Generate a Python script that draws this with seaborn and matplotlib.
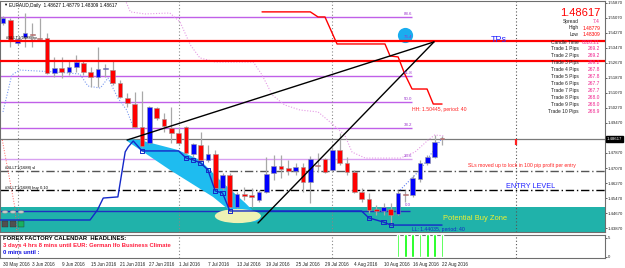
import matplotlib
matplotlib.use("Agg")
import matplotlib.pyplot as plt
from matplotlib.patches import Polygon, Ellipse
from matplotlib.transforms import blended_transform_factory
import numpy as np
import pandas as pd
import seaborn as sns

sns.set_style("white")
plt.rcParams['font.family'] = ['Liberation Sans', 'DejaVu Sans']

# ---------------- data ----------------
date_labels = ["30 May 2016", "3 Jun 2016", "9 Jun 2016", "15 Jun 2016", "21 Jun 2016",
               "27 Jun 2016", "1 Jul 2016", "7 Jul 2016", "13 Jul 2016", "19 Jul 2016",
               "25 Jul 2016", "29 Jul 2016", "4 Aug 2016", "10 Aug 2016", "16 Aug 2016",
               "22 Aug 2016"]
date_tick_bars = [0, 4, 8, 12, 16, 20, 24, 28, 32, 36, 40, 44, 48, 52, 56, 60]

opens = [1.5480, 1.5496, 1.5373, 1.5405, 1.5421, 1.5400, 1.5400, 1.5214, 1.5240, 1.5219,
         1.5245, 1.5267, 1.5219, 1.5192, 1.5235, 1.5229, 1.5160, 1.5080, 1.5048, 1.4926,
         1.4840, 1.5027, 1.4968, 1.4920, 1.4894, 1.4926, 1.4782, 1.4830, 1.4750, 1.4782,
         1.4601, 1.4670, 1.4499, 1.4569, 1.4563, 1.4537, 1.4579, 1.4681, 1.4718, 1.4707,
         1.4691, 1.4713, 1.4633, 1.4723, 1.4755, 1.4697, 1.4803, 1.4734, 1.4686, 1.4579,
         1.4542, 1.4489, 1.4478, 1.4489, 1.4462, 1.4569, 1.4563, 1.4649, 1.4734, 1.4766,
         1.48627]
highs = [1.5517, 1.5507, 1.5405, 1.5533, 1.5480, 1.5507, 1.5427, 1.5299, 1.5299, 1.5283,
         1.5309, 1.5283, 1.5245, 1.5352, 1.5261, 1.5283, 1.5176, 1.5107, 1.5112, 1.5118,
         1.5037, 1.5032, 1.5000, 1.5032, 1.4926, 1.4929, 1.4840, 1.4899, 1.4830, 1.4803,
         1.4681, 1.4681, 1.4579, 1.4606, 1.4601, 1.4590, 1.4766, 1.4777, 1.4777, 1.4750,
         1.4734, 1.4734, 1.4771, 1.4787, 1.4761, 1.4819, 1.4894, 1.4766, 1.4697, 1.4601,
         1.4574, 1.4510, 1.4521, 1.4521, 1.4590, 1.4590, 1.4670, 1.4750, 1.4777, 1.4883,
         1.48779]
lows = [1.5469, 1.5352, 1.5363, 1.5352, 1.5352, 1.5389, 1.5208, 1.5192, 1.5187, 1.5203,
        1.5219, 1.5203, 1.5139, 1.5139, 1.5192, 1.5150, 1.5080, 1.5032, 1.4920, 1.4819,
        1.4835, 1.4963, 1.4899, 1.4840, 1.4830, 1.4782, 1.4766, 1.4739, 1.4739, 1.4590,
        1.4590, 1.4494, 1.4494, 1.4537, 1.4499, 1.4526, 1.4574, 1.4643, 1.4654, 1.4670,
        1.4670, 1.4579, 1.4521, 1.4686, 1.4681, 1.4686, 1.4723, 1.4670, 1.4574, 1.4526,
        1.4467, 1.4457, 1.4457, 1.4404, 1.4457, 1.4526, 1.4553, 1.4633, 1.4723, 1.4761,
        1.48309]
closes = [1.5507, 1.5384, 1.5395, 1.5427, 1.5416, 1.5395, 1.5214, 1.5240, 1.5219, 1.5245,
          1.5272, 1.5219, 1.5192, 1.5235, 1.5240, 1.5160, 1.5086, 1.5054, 1.4926, 1.4824,
          1.5032, 1.4974, 1.4931, 1.4894, 1.4840, 1.4787, 1.4835, 1.4750, 1.4782, 1.4601,
          1.4670, 1.4499, 1.4569, 1.4558, 1.4553, 1.4579, 1.4675, 1.4718, 1.4702, 1.4691,
          1.4713, 1.4633, 1.4755, 1.4718, 1.4686, 1.4803, 1.4734, 1.4686, 1.4579, 1.4542,
          1.4483, 1.4478, 1.4499, 1.4457, 1.4574, 1.4563, 1.4654, 1.4734, 1.4766, 1.4846,
          1.48617]

# lower (LL) step channel
ll_bars = [-0.5, 11.9, 12.9, 13.7, 15.7, 16.7, 17.1, 17.8, 19, 24, 25, 26, 27, 28, 29, 30,
           31, 49, 50, 52, 53, 60]
ll_price = [1.4430, 1.4430, 1.4483, 1.4547, 1.4553, 1.4793, 1.4819, 1.4851, 1.4798, 1.4798,
            1.4761, 1.4750, 1.4734, 1.4697, 1.4585, 1.4574, 1.4478, 1.4478, 1.4441, 1.4419,
            1.4403, 1.4403]
ll_box_bars = [19, 25, 26, 27, 28, 29, 30, 31, 50, 52, 53]
ll_box_price = [1.4798, 1.4761, 1.4750, 1.4734, 1.4697, 1.4585, 1.4574, 1.4478, 1.4441,
                1.4419, 1.4403]

# upper (HH) step channel
hh_bars = [35.4, 42.0, 43.05, 44.0, 45.65, 52.2, 52.9, 54.0, 54.9, 55.9, 57.95, 58.8, 60.0]
hh_price = [1.5539, 1.5539, 1.5512, 1.5512, 1.5368, 1.5368, 1.5304, 1.5299, 1.5208, 1.5128,
            1.5128, 1.5048, 1.5048]

# dotted bands
upper_band_bars = [16.7, 17.4, 19.4, 22.8, 24.2, 25.6, 26.9, 29.0, 34.2, 35.4, 36.8, 38.5,
                   40.6, 43.05, 44.7, 46.7, 47.7, 49.5, 54.3, 56.3, 58.1, 59.0, 60.3]
upper_band = [1.5603, 1.5539, 1.5528, 1.5533, 1.5485, 1.5363, 1.5294, 1.5272, 1.5272, 1.5203,
              1.5096, 1.5043, 1.5016, 1.5006, 1.4952, 1.4883, 1.4792, 1.4760, 1.4760, 1.4792,
              1.4856, 1.4883, 1.4878]
lower_band_bars = [0, 1.2, 2.3, 7.1, 10.5, 11.6, 13.3, 14.35, 15.7, 16.9, 17.8]
lower_band = [1.5006, 1.5203, 1.5229, 1.5219, 1.5208, 1.5144, 1.5133, 1.5187, 1.5080, 1.5016,
              1.4926]
lower_band2_bars = [54.0, 57.0, 60.0]
lower_band2 = [1.4579, 1.4697, 1.4867]

# trend lines (wedge)
trend1_bars = [16.95, 58.9]
trend1 = [1.4856, 1.5379]
trend2_bars = [34.85, 58.9]
trend2 = [1.4414, 1.5379]

# cyan channel region
cyan_bars = [16.95, 18.7, 23.9, 26.9, 29.9, 33.1, 35.4, 34.4, 31.7, 28.7, 22.8, 16.95]
cyan_price = [1.4862, 1.4856, 1.4803, 1.4750, 1.4633, 1.4521, 1.4430, 1.4419, 1.4457, 1.4553,
              1.4697, 1.4851]

# levels
fib_levels = [1.5512, 1.5197, 1.5059, 1.4920, 1.4755]
fib_labels = ["88.6", "61.8", "50.0", "38.2", "23.6"]
fib_label_extra = ("76.4", 1.5400)
fib_zero = ("0.0", 1.4494)
tp_levels = [1.5384, 1.5277]
sl_level = 1.4691
entry_level = 1.4590
zone_blue_level = 1.4478
buy_zone_top = 1.4500
current_price = 1.48617
month_sep_bars = [2, 24, 45]
price_ticks = [1.55870, 1.55070, 1.54270, 1.53470, 1.52670, 1.51870, 1.51070, 1.50270,
               1.49470, 1.47870, 1.47070, 1.46270, 1.45470, 1.44670, 1.43870]
alert_bars = [54, 55, 56, 57, 58, 59, 60]
alert_vals = [6, 6, 6, 6, 6, 6, 6]

info_labels = ["Spread", "High", "Low", "Candle Time"] + [f"Trade {i} Pips" for i in range(1, 11)]
info_values = ["7.4", "1.48779", "1.48309", "0028:21", "269.2", "269.2", "269.2", "267.8",
               "267.8", "267.7", "267.7", "268.0", "268.0", "268.9"]

# ---------------- figure ----------------
W, H = 625, 268
fig = plt.figure(figsize=(W / 100, H / 100), dpi=100)
ax = fig.add_axes([0, (H - 232) / H, 605 / W, 231 / H])
ax2 = fig.add_axes([0, 10 / H, 605 / W, 23 / H])
XL = (-0.41, 82.27)
ax.set_xlim(*XL)
ax.set_ylim(1.4366, 1.5597)
ax2.set_xlim(*XL)
ax2.set_ylim(-0.3, 5.7)


def ptext(px, py, s, **kw):
    fig.text(px / W, 1 - py / H, s, **kw)


# buy zone
ax.axhspan(1.4300, buy_zone_top, color='#20B2AA', zorder=0, lw=0)

# fib lines
fib_end = 55.9
ax.hlines(fib_levels[:-1], XL[0], fib_end, color='#C060E8', lw=1.0, zorder=1)
ax.hlines(fib_levels[-1], XL[0], fib_end, color='#D8A0F0', lw=1.0, zorder=1)
for lv, lb in zip(fib_levels, fib_labels):
    ax.text(55.3, lv + 0.0007, lb, fontsize=3.2, color='#9932CC', ha='center', va='bottom', zorder=7)
ax.text(55.3, fib_zero[1] + 0.0007, fib_zero[0], fontsize=3.2, color='#9932CC', ha='center', va='bottom', zorder=7)

# blue circle
ax.scatter([54.9], [1.5416], s=120, color='#1AADEF', zorder=6, lw=0)
ax.text(55.3, fib_label_extra[1] + 0.0004, fib_label_extra[0], fontsize=3.2, color='#9932CC',
        ha='center', va='center', zorder=7)

# horizontal levels
ax.axhline(current_price, color='#7A7A7A', lw=0.9, zorder=1)
ax.axhline(sl_level, color='#555555', lw=1.0, ls=(0, (6, 2, 1, 2)), zorder=2)
ax.axhline(entry_level, color='#000000', lw=1.0, ls=(0, (6, 2, 1, 2)), zorder=2)
ax.hlines(zone_blue_level, XL[0], 55.6, color='#2030C0', lw=1.0, zorder=2)
for lv in tp_levels:
    ax.axhline(lv, color='#FF0000', lw=1.6, zorder=6)

# month separators
for b in month_sep_bars:
    for a in (ax, ax2):
        a.axvline(b, color='#888888', lw=0.8, ls=(0, (1, 2)), zorder=1)
for a in (ax, ax2):
    a.axvline(70.1, color='#555555', lw=0.8, ls=(0, (1, 2)), zorder=1)
ax.vlines(70.1, 1.4830, 1.4862, color='#FF2020', lw=1.6, zorder=6)
sns.lineplot(x=[-0.1, 1.64, 1.9], y=[1.4856, 1.4494, 1.4366], ax=ax, sort=False, estimator=None,
             color='#FF6060', lw=0.7, ls=':', zorder=2)

# cyan region + pale ellipse
ax.add_patch(Polygon(np.column_stack([cyan_bars, cyan_price]), closed=True,
                     facecolor='#1EBCF0', edgecolor='none', zorder=2))
ax.add_patch(Ellipse((32.1, 1.4451), 6.3, 0.0075, facecolor='#EEF2B4', edgecolor='none', zorder=2.5))

# dotted bands
sns.lineplot(x=upper_band_bars, y=upper_band, ax=ax, sort=False, estimator=None,
             color='#E59AE5', lw=0.8, ls=(0, (1, 1.5)), zorder=3)
sns.lineplot(x=lower_band_bars, y=lower_band, ax=ax, sort=False, estimator=None,
             color='#7A9AF0', lw=0.8, ls=(0, (1, 1.5)), zorder=3)
sns.lineplot(x=lower_band2_bars, y=lower_band2, ax=ax, sort=False, estimator=None,
             color='#5A7AF0', lw=0.8, ls=(0, (1, 1.5)), zorder=3)

# candles
x = np.arange(len(opens))
o = np.array(opens); c = np.array(closes)
ax.vlines(x, lows, highs, color='#A8A8A8', lw=0.9, zorder=4)
body_bottom = np.minimum(o, c)
body_h = np.maximum(np.abs(c - o), 0.00028)
body_col = np.where(c >= o, '#0000FF', '#FF0000')
ax.bar(x, body_h, bottom=body_bottom, width=0.64, color=body_col, edgecolor='#9A9A9A',
       linewidth=0.4, zorder=5)

# step channels
sns.lineplot(x=ll_bars, y=ll_price, ax=ax, sort=False, estimator=None, color='#1428C8', lw=1.0, zorder=6)
ax.scatter(ll_box_bars, ll_box_price, marker='s', s=9, facecolor='none', edgecolor='#1428C8',
           lw=0.7, zorder=6)
sns.lineplot(x=hh_bars, y=hh_price, ax=ax, sort=False, estimator=None, color='#FF0000', lw=1.0, zorder=6)

# trend lines
sns.lineplot(x=trend1_bars, y=trend1, ax=ax, sort=False, estimator=None, color='black', lw=1.0, zorder=6)
sns.lineplot(x=trend2_bars, y=trend2, ax=ax, sort=False, estimator=None, color='black', lw=1.0, zorder=6)

# alerts panel
ax2.bar(alert_bars, alert_vals, width=0.35, color='#00FF00', zorder=3)

# axes styling
for a in (ax, ax2):
    for s in a.spines.values():
        s.set_color('#6E6E6E'); s.set_linewidth(0.8)
    a.yaxis.tick_right()
    a.tick_params(axis='y', direction='out', length=1.5, width=0.5, pad=0.6, labelsize=3.1,
                  colors='#222222')
ax.set_xticks([])
ax.set_yticks(price_ticks)
ax.set_yticklabels([f"{p:.5f}" for p in price_ticks])
ax2.set_yticks([0, 5])
ax2.set_yticklabels(["0", "5"])
ax2.set_xticks(date_tick_bars)
ax2.set_xticklabels(date_labels)
ax2.tick_params(axis='x', direction='out', length=2, width=0.5, pad=1, labelsize=3.3, colors='#222222')
for t in ax2.get_xticklabels():
    t.set_ha('left')

trans = blended_transform_factory(ax.transAxes, ax.transData)
ax.text(1.003, current_price, "1.48617", transform=trans, fontsize=3.1, color='white', va='center',
        ha='left', clip_on=False, zorder=10,
        bbox=dict(facecolor='black', edgecolor='black', pad=0.4))

# ---------------- texts ----------------
ptext(3, 5, "\u25BC", fontsize=3, color='black', va='center', ha='left')
ptext(9, 5, "EURAUD,Daily  1.48627 1.48779 1.48309 1.48617", fontsize=3.4, color='black', va='center')
ptext(600, 13, "1.48617", fontsize=8, color='#FF0000', ha='right', va='center')
rows_y = [21, 28, 35, 42] + [48.5 + 7 * k for k in range(10)]
for k, (lb, vl, yy) in enumerate(zip(info_labels, info_values, rows_y)):
    lx = 579
    vcol = '#FF0000' if lb in ("High", "Low") else '#F0208C'
    ptext(lx, yy, lb, fontsize=3.5, color='#202020', ha='right', va='center')
    ptext(600, yy, vl, fontsize=3.5, color=vcol, ha='right', va='center')

ptext(491, 39, "TPs", fontsize=6.5, color='#2828FF', ha='left', va='center')
ptext(412, 109, "HH: 1.50445, period: 40", fontsize=3.7, color='#FF2020', ha='left', va='center')
ptext(468, 165, "SLs moved up to lock in 100 pip profit per entry", fontsize=3.7, color='#FF2020',
      ha='left', va='center')
ptext(506, 186, "ENTRY LEVEL", fontsize=5.2, color='#2020FF', ha='left', va='center')
ptext(443, 218, "Potential Buy Zone", fontsize=5.4, color='#F2F230', ha='left', va='center')
ptext(412, 229, "LL: 1.44035, period: 40", fontsize=3.7, color='#1428C8', ha='left', va='center')
ptext(6, 38, "#SLLT1(1688) tp", fontsize=3, color='black', ha='left', va='center')
ptext(5, 168, "#SLLT1(1688) sl", fontsize=3, color='black', ha='left', va='center')
ptext(5, 188, "#SLLT1(1688) buy 0.10", fontsize=3, color='black', ha='left', va='center')

ptext(3, 238, "FOREX FACTORY CALENDAR  HEADLINES:", fontsize=4.2, color='black', weight='bold', va='center')
ptext(3, 246, "3 days 4 hrs 8 mins until EUR: German Ifo Business Climate", fontsize=4.2,
      color='#FF1F3F', weight='bold', va='center')
ptext(3, 253, "0 mins until :", fontsize=4.2, color='#1010E0', weight='bold', va='center')

# small buttons
for px, col in zip([5, 13, 21], ['#C8C8C8', '#C8C8C8', '#C8C8C8']):
    fig.patches.append(plt.Circle((px / W, 1 - 212 / H), 3 / W, transform=fig.transFigure,
                                  facecolor=col, edgecolor='#909090', lw=0.3))
for px, col in zip([5, 13, 21], ['#505050', '#505050', '#18B060']):
    fig.patches.append(plt.Rectangle(((px - 3) / W, 1 - 227 / H), 6 / W, 6 / H, transform=fig.transFigure,
                                     facecolor=col, edgecolor='#303030', lw=0.3))

fig.savefig("out.png", dpi=100)
